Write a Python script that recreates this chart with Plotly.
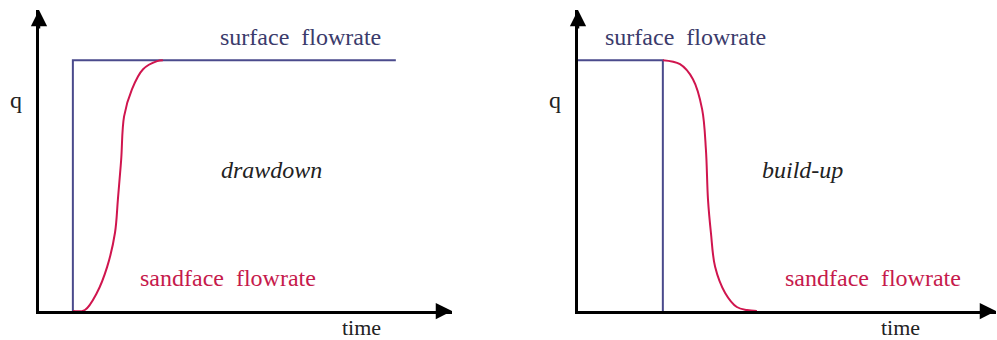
import plotly.graph_objects as go

# ---- data (time units on x, normalised rate q on y) ----
dd_surface_t = [0.82, 0.82, 8.64]
dd_surface_q = [0.0, 1.0, 1.0]
dd_sand_t = [0.82, 1.11, 1.40, 1.65, 1.84, 1.91, 1.99, 2.06, 2.25, 2.52, 2.86, 3.00]
dd_sand_q = [0.0, 0.004, 0.072, 0.176, 0.312, 0.444, 0.604, 0.776, 0.884, 0.964, 0.996, 1.0]

bu_surface_t = [0.0, 2.03, 2.03]
bu_surface_q = [1.0, 1.0, 0.0]
bu_sand_t = [2.03, 2.44, 2.75, 2.97, 3.06, 3.11, 3.18, 3.28, 3.52, 3.80, 4.04, 4.28]
bu_sand_q = [1.0, 0.984, 0.924, 0.804, 0.644, 0.444, 0.312, 0.176, 0.072, 0.016, 0.004, 0.0]

labels_left = ["surface  flowrate", "drawdown", "sandface  flowrate"]
labels_right = ["surface  flowrate", "build-up", "sandface  flowrate"]
axis_q = "q"
axis_t = "time"

BLUE = "#4a4a8c"
BLUE_TXT = "#3b3b6b"
RED = "#d0154e"
RED_TXT = "#c61a4c"
FONT = "Liberation Serif, Times New Roman, serif"

fig = go.Figure()
fig.add_trace(go.Scatter(x=dd_surface_t, y=dd_surface_q, mode="lines",
                         line=dict(color=BLUE, width=2), xaxis="x", yaxis="y"))
fig.add_trace(go.Scatter(x=dd_sand_t, y=dd_sand_q, mode="lines",
                         line=dict(color=RED, width=2, shape="spline", smoothing=1.0),
                         xaxis="x", yaxis="y"))
fig.add_trace(go.Scatter(x=bu_surface_t, y=bu_surface_q, mode="lines",
                         line=dict(color=BLUE, width=2), xaxis="x2", yaxis="y2"))
fig.add_trace(go.Scatter(x=bu_sand_t, y=bu_sand_q, mode="lines",
                         line=dict(color=RED, width=2, shape="spline", smoothing=1.0),
                         xaxis="x2", yaxis="y2"))

W, H = 997, 340
ax_common = dict(showgrid=False, zeroline=False, showticklabels=False, ticks="",
                 showline=True, linecolor="black", linewidth=2.5, fixedrange=True)
ydom = [(H - 311) / H, (H - 10) / H]
fig.update_layout(
    width=W, height=H, margin=dict(l=0, r=0, t=0, b=0),
    paper_bgcolor="white", plot_bgcolor="white", showlegend=False,
    font=dict(family=FONT),
    xaxis=dict(domain=[39 / W, 452 / W], range=[0, 10], anchor="y", **ax_common),
    yaxis=dict(domain=ydom, range=[0, 1.2], anchor="x", **ax_common),
    xaxis2=dict(domain=[578 / W, 996 / W], range=[0, 10], anchor="y2", **ax_common),
    yaxis2=dict(domain=ydom, range=[0, 1.2], anchor="x2", **ax_common),
)

ann = []
panels = [
    ("x", "y", labels_left, [(6.32, 1.092), (5.64, 0.564), (4.58, 0.132)], 16, 361),
    ("x2", "y2", labels_right, [(2.56, 1.092), (5.36, 0.564), (7.06, 0.132)], 555, 900),
]
for xr, yr, labs, pos, qx, tx in panels:
    cols = [BLUE_TXT, "#222222", RED_TXT]
    for i, (lab, (px, py)) in enumerate(zip(labs, pos)):
        txt = f"<i>{lab}</i>" if i == 1 else lab
        ann.append(dict(x=px, y=py, xref=xr, yref=yr, text=txt, showarrow=False,
                        font=dict(family=FONT, size=24, color=cols[i]),
                        xanchor="center", yanchor="middle"))
    ann.append(dict(x=qx / W, y=(H - 100) / H, xref="paper", yref="paper", text=axis_q,
                    showarrow=False, font=dict(family=FONT, size=24, color="#222222"),
                    xanchor="center", yanchor="middle"))
    ann.append(dict(x=tx / W, y=0, xref="paper", yref="paper", text=axis_t,
                    showarrow=False, font=dict(family=FONT, size=22, color="#222222"),
                    xanchor="center", yanchor="bottom", yshift=-2))
    # axis arrowheads
    ann.append(dict(x=0, y=1.2, ax=0, ay=1.12, xref=xr, yref=yr, axref=xr, ayref=yr,
                    showarrow=True, arrowhead=2, arrowsize=1.3, arrowwidth=2.5,
                    arrowcolor="black", text="", standoff=0))
    ann.append(dict(x=10, y=0, ax=9.6, ay=0, xref=xr, yref=yr, axref=xr, ayref=yr,
                    showarrow=True, arrowhead=2, arrowsize=1.3, arrowwidth=2.5,
                    arrowcolor="black", text="", standoff=0))
fig.update_layout(annotations=ann)

fig.write_html("out.html", config={"displayModeBar": False},
               post_script="document.body.style.margin='0';document.body.style.overflow='hidden';")
